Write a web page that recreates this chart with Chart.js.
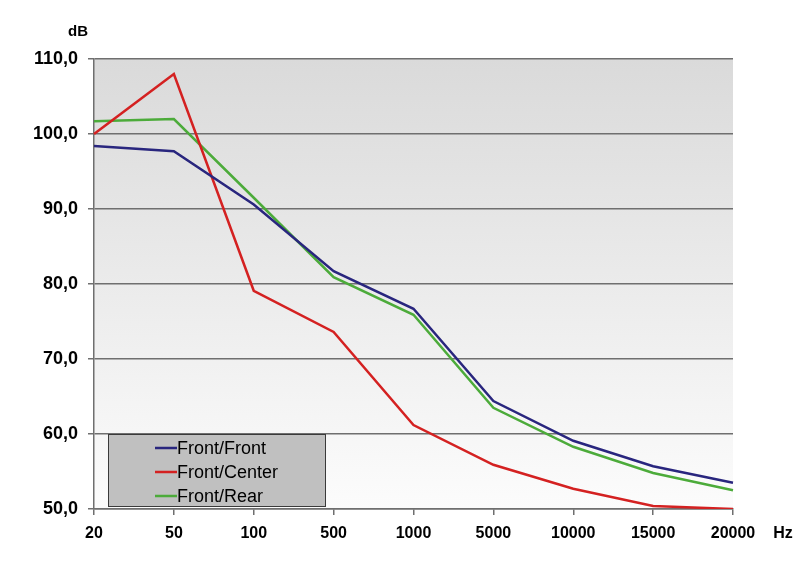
<!DOCTYPE html>
<html>
<head>
<meta charset="utf-8">
<script src="https://cdn.jsdelivr.net/npm/chart.js@4/dist/chart.umd.min.js"></script>
<style>
html,body{margin:0;padding:0;background:#fff;}
#wrap{width:800px;height:570px;position:relative;}
</style>
</head>
<body>
<div id="wrap"><canvas id="c" width="800" height="570"></canvas></div>
<script>
const categories = ["20","50","100","500","1000","5000","10000","15000","20000"];
const frontFront = [98.4, 97.7, 90.6, 81.7, 76.7, 64.4, 59.1, 55.7, 53.5];
const frontCenter = [100.0, 108.0, 79.1, 73.6, 61.2, 55.9, 52.7, 50.4, 50.0];
const frontRear = [101.7, 102.0, 91.5, 80.9, 75.9, 63.5, 58.3, 54.8, 52.5];
const seriesNames = ["Front/Front", "Front/Center", "Front/Rear"];
const yUnit = "dB";
const xUnit = "Hz";

const colors = ["#29267e", "#d42121", "#4cab3a"];
const FONT = "'Liberation Sans', Arial, sans-serif";

const bgPlugin = {
  id: 'bg',
  beforeDraw(chart) {
    const {ctx, chartArea: a} = chart;
    const g = ctx.createLinearGradient(0, a.top, 0, a.bottom);
    g.addColorStop(0, '#dadada');
    g.addColorStop(1, '#fcfcfc');
    ctx.save();
    ctx.fillStyle = g;
    ctx.fillRect(a.left, a.top, a.right - a.left, a.bottom - a.top);
    ctx.restore();
  }
};

const overlayPlugin = {
  id: 'overlay',
  afterDraw(chart) {
    const ctx = chart.ctx;
    ctx.save();
    ctx.fillStyle = '#000';
    ctx.font = "bold 15px " + FONT;
    ctx.textAlign = 'center';
    ctx.textBaseline = 'middle';
    ctx.fillText(yUnit, 78, 32);
    ctx.font = "bold 16px " + FONT;
    ctx.fillText(xUnit, 783, 534);
    // legend box
    const x0 = 108.5, y0 = 434.5, w = 217, h = 72;
    ctx.fillStyle = '#c0c0c0';
    ctx.fillRect(x0, y0, w, h);
    ctx.strokeStyle = '#3a3a3a';
    ctx.lineWidth = 1;
    ctx.strokeRect(x0, y0, w, h);
    ctx.font = "18px " + FONT;
    ctx.textAlign = 'left';
    ctx.textBaseline = 'middle';
    chart.data.datasets.forEach((ds, i) => {
      const yy = 448 + i * 24;
      ctx.strokeStyle = ds.borderColor;
      ctx.lineWidth = 2.5;
      ctx.beginPath();
      ctx.moveTo(155, yy);
      ctx.lineTo(177, yy);
      ctx.stroke();
      ctx.fillStyle = '#000';
      ctx.fillText(ds.label, 177, yy + 1);
    });
    ctx.restore();
  }
};

const datasets = [frontFront, frontCenter, frontRear].map((d, i) => ({
  label: seriesNames[i],
  data: d,
  borderColor: colors[i],
  backgroundColor: colors[i],
  borderWidth: 2.5,
  pointRadius: 0,
  tension: 0,
  fill: false
}));

new Chart(document.getElementById('c'), {
  type: 'line',
  data: { labels: categories, datasets },
  plugins: [bgPlugin, overlayPlugin],
  options: {
    responsive: false,
    animation: false,
    devicePixelRatio: 1,
    layout: { padding: { left: 0, right: 67, top: 59, bottom: 0 } },
    plugins: { legend: { display: false }, tooltip: { enabled: false } },
    scales: {
      x: {
        offset: false,
        afterFit(s) { s.height = 61; },
        grid: { display: true, drawOnChartArea: false, drawTicks: true, tickLength: 6, color: '#6f6f6f', lineWidth: 1.5 },
        border: { display: true, color: '#6f6f6f', width: 1.5 },
        ticks: { color: '#000', font: { family: FONT, size: 16, weight: 'bold' }, padding: 9, maxRotation: 0, autoSkip: false }
      },
      y: {
        min: 50, max: 110,
        afterFit(s) { s.width = 94; },
        grid: { color: '#6f6f6f', lineWidth: 1.5, drawTicks: true, tickLength: 6 },
        border: { display: true, color: '#6f6f6f', width: 1.5 },
        ticks: {
          stepSize: 10, color: '#000', padding: 10,
          font: { family: FONT, size: 18, weight: 'bold' },
          callback: v => v.toFixed(1).replace('.', ',')
        }
      }
    }
  }
});
</script>
</body>
</html>
